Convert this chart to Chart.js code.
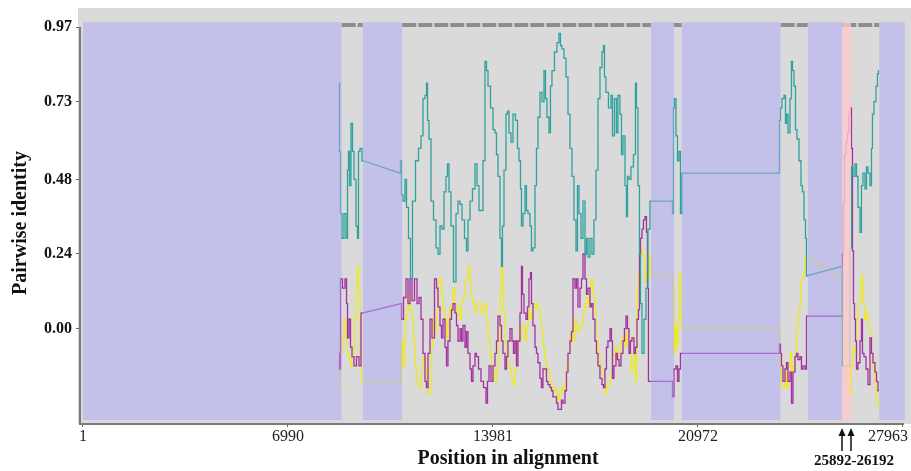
<!DOCTYPE html>
<html>
<head>
<meta charset="utf-8">
<script src="https://cdn.jsdelivr.net/npm/chart.js@4/dist/chart.umd.min.js"></script>
<style>
  html, body { margin: 0; padding: 0; background: #fff; }
  #wrap { width: 911px; height: 471px; position: relative; }
</style>
</head>
<body>
<div id="wrap"><canvas id="identityChart"></canvas></div>
<script>
// tick labels
const positionTicks = [1, 6990, 13981, 20972, 27963];
const identityTicks = [0.97, 0.73, 0.48, 0.24, 0.00];

// shaded (lavender) stretches of the alignment and the highlighted window
const lavenderBlocks = [[1, 8822], [9538, 10888], [19369, 20153], [20416, 23791], [24712, 25892], [27153, 28030]];
const highlightRange = [25892, 26192];
const trackedRegions = [[8822, 9538], [10888, 19369], [20153, 20416], [23791, 24712], [25892, 27153]];

// [position, pairwise identity]
const tealPoints = [
    [8731, 0.79], [8765, 0.57], [8799, 0.37], [8867, 0.29], [8935, 0.37], [9004, 0.29], [9038, 0.51], [9072, 0.57],
    [9106, 0.46], [9174, 0.66], [9208, 0.57], [9276, 0.48], [9344, 0.33], [9378, 0.29], [9413, 0.57], [9481, 0.58],
    [9549, 0.54], [10811, 0.50], [10845, 0.54], [10879, 0.43], [10947, 0.41], [11016, 0.48], [11050, 0.39], [11152, 0.29],
    [11186, 0.16], [11288, 0.41], [11391, 0.54], [11493, 0.58], [11561, 0.62], [11629, 0.74], [11697, 0.75], [11732, 0.79],
    [11766, 0.67], [11834, 0.61], [11902, 0.41], [12004, 0.35], [12072, 0.26], [12141, 0.24], [12209, 0.33], [12277, 0.32],
    [12345, 0.44], [12413, 0.49], [12447, 0.53], [12516, 0.44], [12584, 0.33], [12686, 0.15], [12754, 0.37], [12823, 0.41],
    [12891, 0.40], [12959, 0.35], [13061, 0.29], [13095, 0.25], [13164, 0.35], [13232, 0.41], [13334, 0.45], [13402, 0.53],
    [13470, 0.46], [13539, 0.38], [13607, 0.38], [13675, 0.54], [13743, 0.86], [13777, 0.83], [13846, 0.78], [13948, 0.71],
    [14016, 0.64], [14084, 0.63], [14118, 0.56], [14186, 0.49], [14255, 0.29], [14289, 0.20], [14323, 0.33], [14391, 0.51],
    [14459, 0.69], [14493, 0.70], [14561, 0.63], [14630, 0.60], [14698, 0.69], [14800, 0.67], [14834, 0.58], [14902, 0.54],
    [14936, 0.45], [14970, 0.33], [15039, 0.37], [15107, 0.46], [15141, 0.38], [15209, 0.37], [15277, 0.33], [15311, 0.25],
    [15380, 0.26], [15448, 0.46], [15482, 0.58], [15550, 0.68], [15618, 0.76], [15686, 0.73], [15755, 0.83], [15789, 0.74],
    [15857, 0.68], [15925, 0.63], [15959, 0.78], [16027, 0.83], [16130, 0.89], [16198, 0.92], [16266, 0.95], [16300, 0.91],
    [16368, 0.90], [16436, 0.87], [16505, 0.81], [16573, 0.69], [16641, 0.58], [16709, 0.49], [16777, 0.35], [16846, 0.25],
    [16880, 0.46], [16948, 0.37], [17016, 0.29], [17084, 0.41], [17153, 0.24], [17187, 0.29], [17255, 0.23], [17323, 0.29],
    [17391, 0.24], [17459, 0.35], [17527, 0.51], [17596, 0.74], [17664, 0.84], [17732, 0.89], [17766, 0.91], [17800, 0.81],
    [17868, 0.76], [17971, 0.71], [18039, 0.75], [18073, 0.62], [18175, 0.74], [18209, 0.63], [18278, 0.75], [18346, 0.69],
    [18380, 0.56], [18448, 0.62], [18516, 0.46], [18550, 0.36], [18585, 0.49], [18653, 0.48], [18721, 0.52], [18823, 0.56],
    [18857, 0.79], [18891, 0.71], [18960, 0.46], [18994, 0.24], [19028, 0.08], [19096, -0.08], [19164, 0.03], [19233, 0.13],
    [19301, 0.32], [19369, 0.41], [20085, 0.41], [20119, 0.37], [20153, 0.71], [20187, 0.74], [20256, 0.62], [20290, 0.54],
    [20358, 0.57], [20392, 0.37], [20460, 0.50], [23734, 0.50], [23768, 0.67], [23802, 0.71], [23870, 0.74], [23939, 0.75],
    [23973, 0.66], [24007, 0.69], [24075, 0.63], [24143, 0.74], [24177, 0.86], [24211, 0.83], [24280, 0.78], [24314, 0.64],
    [24382, 0.61], [24450, 0.54], [24518, 0.46], [24552, 0.44], [24621, 0.35], [24655, 0.29], [24689, 0.17], [25882, 0.20],
    [25916, -0.12], [26121, -0.12], [26189, 0.26], [26223, 0.52], [26291, 0.49], [26360, 0.53], [26394, 0.49], [26462, 0.39],
    [26530, 0.31], [26564, 0.46], [26632, 0.50], [26701, 0.45], [26735, 0.52], [26803, 0.50], [26871, 0.46], [26905, 0.58],
    [26939, 0.69], [27008, 0.73], [27076, 0.78], [27110, 0.82], [27144, 0.83]
];

const purplePoints = [
    [8731, -0.08], [8765, -0.13], [8799, 0.16], [8901, 0.13], [8970, 0.16], [9004, 0.08], [9038, -0.03], [9106, 0.03],
    [9140, -0.06], [9208, -0.09], [9276, -0.12], [9378, -0.09], [9447, -0.12], [9515, 0.05], [10845, 0.08], [10879, 0.03],
    [10981, 0.10], [11050, 0.16], [11118, 0.08], [11186, 0.16], [11254, 0.09], [11357, 0.16], [11425, 0.08], [11493, 0.10],
    [11561, 0.03], [11629, -0.08], [11697, -0.17], [11732, -0.19], [11800, -0.08], [11868, 0.03], [11936, -0.03], [12038, 0.16],
    [12072, 0.13], [12141, 0.07], [12209, 0.01], [12243, -0.03], [12311, 0.03], [12379, -0.06], [12413, -0.12], [12481, -0.04],
    [12550, 0.03], [12584, 0.06], [12652, 0.08], [12720, 0.05], [12754, 0.01], [12823, -0.04], [12891, 0.00], [12925, -0.04],
    [12993, 0.01], [13061, -0.06], [13095, -0.01], [13164, -0.08], [13232, -0.13], [13266, -0.17], [13334, -0.12], [13402, -0.08],
    [13436, -0.09], [13539, -0.13], [13607, -0.17], [13709, -0.19], [13777, -0.24], [13811, -0.17], [13880, -0.12], [13948, -0.17],
    [14016, -0.12], [14084, -0.08], [14118, -0.04], [14186, 0.04], [14255, 0.01], [14289, -0.04], [14357, -0.08], [14425, -0.13],
    [14459, -0.09], [14527, -0.04], [14596, 0.00], [14664, -0.04], [14698, -0.08], [14766, -0.04], [14800, -0.12], [14868, -0.04],
    [14936, 0.05], [14970, 0.20], [15005, 0.11], [15073, 0.05], [15141, 0.03], [15175, 0.07], [15243, 0.16], [15277, 0.18],
    [15311, 0.08], [15380, 0.01], [15448, -0.06], [15482, -0.08], [15550, -0.11], [15618, -0.16], [15652, -0.19], [15720, -0.13],
    [15789, -0.13], [15823, -0.17], [15891, -0.18], [15959, -0.19], [15993, -0.20], [16061, -0.22], [16130, -0.22], [16164, -0.24],
    [16232, -0.26], [16300, -0.26], [16334, -0.23], [16402, -0.24], [16471, -0.20], [16505, -0.14], [16573, -0.08], [16641, -0.04],
    [16675, -0.01], [16743, 0.16], [16812, 0.13], [16846, 0.16], [16914, 0.07], [16982, 0.13], [17016, 0.16], [17084, 0.24],
    [17153, 0.16], [17187, 0.11], [17255, 0.13], [17323, 0.07], [17357, 0.08], [17425, 0.03], [17493, -0.04], [17527, -0.08],
    [17596, -0.12], [17664, -0.16], [17732, -0.18], [17766, -0.19], [17834, -0.13], [17868, -0.06], [17937, -0.04], [18005, 0.00],
    [18039, -0.04], [18073, -0.16], [18141, -0.12], [18209, -0.08], [18243, -0.10], [18312, -0.12], [18380, -0.08], [18448, -0.04],
    [18482, 0.00], [18550, 0.04], [18585, 0.00], [18653, -0.08], [18687, -0.04], [18755, -0.03], [18823, -0.08], [18857, -0.06],
    [18926, 0.03], [18960, 0.06], [18994, 0.24], [19028, 0.29], [19096, 0.32], [19130, 0.35], [19198, 0.36], [19233, 0.31],
    [19267, 0.13], [19301, -0.17], [20085, -0.17], [20119, -0.22], [20187, -0.13], [20256, -0.12], [20290, -0.17], [20358, -0.13],
    [20392, -0.08], [23734, -0.08], [23768, -0.05], [23802, -0.08], [23836, -0.12], [23904, -0.17], [23973, -0.13], [24007, -0.11],
    [24075, -0.17], [24143, -0.14], [24177, -0.24], [24245, -0.14], [24314, -0.09], [24348, -0.08], [24416, -0.10], [24484, -0.09],
    [24518, -0.13], [24587, -0.12], [24655, -0.13], [24689, 0.04], [25882, 0.04], [25916, 0.24], [25950, 0.40], [25984, 0.56],
    [26053, 0.60], [26087, 0.63], [26155, 0.69], [26189, 0.71], [26223, 0.58], [26257, 0.25], [26291, 0.08], [26325, 0.03],
    [26360, -0.04], [26394, -0.13], [26462, -0.11], [26530, -0.04], [26564, 0.03], [26598, -0.08], [26667, -0.09], [26735, -0.13],
    [26803, -0.18], [26871, -0.03], [26905, -0.08], [26974, -0.11], [27042, -0.14], [27076, -0.17], [27144, -0.20]
];

const yellowPoints = [
    [8731, -0.19], [8799, -0.08], [8867, -0.03], [8935, 0.03], [9004, -0.03], [9038, -0.08], [9106, -0.10], [9140, -0.12],
    [9208, -0.08], [9276, 0.03], [9344, 0.13], [9378, 0.20], [9413, 0.13], [9481, -0.08], [9515, -0.17], [10811, -0.17],
    [10845, -0.08], [10879, -0.04], [10947, -0.12], [11016, 0.03], [11050, 0.06], [11118, 0.10], [11186, 0.06], [11254, 0.03],
    [11288, -0.04], [11357, -0.12], [11391, -0.17], [11493, -0.19], [11561, -0.14], [11629, -0.09], [11697, -0.13], [11732, -0.19],
    [11800, -0.21], [11868, -0.17], [11902, -0.06], [11970, 0.03], [12038, -0.01], [12072, 0.06], [12141, 0.15], [12209, 0.16],
    [12243, 0.11], [12311, 0.06], [12379, 0.03], [12413, -0.03], [12481, 0.03], [12550, 0.07], [12584, 0.06], [12652, 0.13],
    [12720, 0.08], [12754, 0.05], [12823, 0.06], [12891, 0.03], [12925, 0.08], [12993, 0.10], [13061, 0.16], [13095, 0.16],
    [13164, 0.20], [13232, 0.16], [13266, 0.10], [13334, 0.08], [13402, 0.05], [13436, 0.08], [13539, 0.08], [13607, 0.05],
    [13675, 0.07], [13743, 0.08], [13777, 0.01], [13846, -0.04], [13914, -0.08], [13948, -0.12], [14016, -0.14], [14084, -0.17],
    [14118, -0.13], [14186, -0.04], [14255, 0.11], [14289, 0.20], [14323, 0.16], [14357, 0.06], [14425, -0.04], [14459, -0.08],
    [14527, -0.12], [14596, -0.13], [14630, -0.16], [14698, -0.18], [14766, -0.13], [14800, -0.08], [14868, -0.04], [14936, -0.03],
    [14970, 0.01], [15039, 0.00], [15107, -0.04], [15141, 0.01], [15209, 0.06], [15277, 0.03], [15311, 0.05], [15380, 0.08],
    [15448, 0.07], [15482, 0.08], [15550, 0.06], [15618, 0.03], [15652, -0.01], [15720, -0.06], [15789, -0.10], [15823, -0.13],
    [15891, -0.14], [15959, -0.17], [15993, -0.19], [16061, -0.20], [16130, -0.19], [16164, -0.21], [16232, -0.23], [16300, -0.21],
    [16334, -0.19], [16402, -0.20], [16471, -0.17], [16505, -0.12], [16573, -0.08], [16641, -0.03], [16675, 0.00], [16743, -0.04],
    [16812, 0.03], [16846, 0.00], [16914, -0.01], [16982, 0.01], [17016, 0.01], [17084, 0.05], [17153, 0.08], [17187, 0.10],
    [17255, 0.07], [17323, 0.13], [17357, 0.16], [17425, 0.11], [17493, 0.05], [17527, -0.04], [17596, -0.08], [17664, -0.12],
    [17732, -0.14], [17800, -0.17], [17834, -0.21], [17868, -0.19], [17937, -0.18], [18005, -0.17], [18039, -0.14], [18107, -0.08],
    [18175, -0.06], [18209, -0.10], [18278, -0.08], [18346, -0.05], [18380, -0.04], [18448, -0.03], [18516, -0.06], [18550, -0.01],
    [18619, -0.04], [18687, -0.08], [18721, -0.14], [18755, -0.12], [18823, -0.08], [18857, -0.17], [18891, 0.03], [18926, 0.13],
    [18960, 0.18], [18994, 0.24], [19028, 0.26], [19096, 0.24], [19164, 0.22], [19198, 0.15], [19267, 0.18], [19301, 0.24],
    [19369, 0.17], [20085, 0.17], [20119, 0.13], [20187, -0.08], [20222, 0.01], [20256, -0.06], [20324, 0.03], [20358, 0.18],
    [20392, 0.05], [20426, 0.00], [23734, 0.00], [23768, -0.08], [23802, -0.13], [23836, -0.19], [23904, -0.19], [23973, -0.14],
    [24007, -0.19], [24075, -0.12], [24143, -0.08], [24177, -0.14], [24245, -0.12], [24314, -0.08], [24348, -0.01], [24416, 0.05],
    [24484, 0.08], [24518, 0.16], [24587, 0.18], [24655, 0.22], [24689, 0.23], [25882, 0.16], [25916, -0.01], [26019, -0.08],
    [26053, -0.13], [26121, -0.19], [26189, -0.21], [26223, -0.12], [26291, -0.06], [26360, -0.08], [26394, 0.03], [26462, 0.08],
    [26530, 0.11], [26564, 0.17], [26632, 0.08], [26701, 0.03], [26735, 0.05], [26803, 0.01], [26871, -0.04], [26905, -0.08],
    [26974, -0.13], [27042, -0.19], [27076, -0.24], [27144, -0.25]
];

const SERIF = "'Liberation Serif', 'DejaVu Serif', serif";
const blockTop = 0.986;
const blockBottom = -0.294;
const markerLevel = 0.977;
const bridgeGap = 600; // jumps longer than this cross a shaded block and are drawn straight

const shadeSet = (range, color) => ({
    type: "line",
    data: [{x: range[0], y: blockTop}, {x: range[1], y: blockTop}],
    fill: {value: blockBottom},
    backgroundColor: color,
    borderWidth: 0,
    pointRadius: 0,
    order: 0
});

// split a trace into the stepped windows and the straight bridges over shaded blocks
const splitTrace = pts => {
    const steps = [];
    const bridges = [];
    pts.forEach(([x, y], i) => {
        if (i > 0 && x - pts[i - 1][0] > bridgeGap) {
            const [px, py] = pts[i - 1];
            steps.push({x: (px + x) / 2, y: null});
            bridges.push({x: px, y: py}, {x, y}, {x, y: null});
        }
        steps.push({x, y});
    });
    return {steps, bridges};
};

const traceSets = (pts, color, order) => {
    const {steps, bridges} = splitTrace(pts);
    const base = {type: "line", borderColor: color, borderWidth: 1.3, pointRadius: 0, tension: 0, fill: false, spanGaps: false, order};
    return [
        {...base, data: steps, stepped: "middle"},
        {...base, data: bridges}
    ];
};

// gray plot background, axis lines and the text around the axes
const decorPlugin = {
    id: "decor",
    beforeDraw(chart) {
        const {ctx, chartArea} = chart;
        ctx.save();
        ctx.fillStyle = "#dadada";
        ctx.fillRect(chartArea.left - 2, chartArea.top, chartArea.right - chartArea.left + 2, chartArea.bottom - chartArea.top);
        ctx.restore();
    },
    afterDraw(chart) {
        const {ctx, chartArea} = chart;
        const xs = chart.scales.x;
        const ys = chart.scales.y;
        ctx.save();

        // axes
        ctx.strokeStyle = "#7a7a7a";
        ctx.lineWidth = 2;
        const xEnd = xs.getPixelForValue(28000);
        ctx.beginPath();
        ctx.moveTo(chartArea.left, ys.getPixelForValue(identityTicks[0]));
        ctx.lineTo(chartArea.left, chartArea.bottom);
        ctx.lineTo(xEnd, chartArea.bottom);
        ctx.stroke();

        // y tick labels
        ctx.fillStyle = "#111";
        ctx.font = "bold 16px " + SERIF;
        ctx.textAlign = "right";
        ctx.textBaseline = "middle";
        identityTicks.forEach(v => {
            ctx.fillText(v.toFixed(2), chartArea.left - 8, ys.getPixelForValue(v));
        });

        // x tick labels (last one kept inside the canvas)
        ctx.fillStyle = "#222";
        ctx.font = "16px " + SERIF;
        ctx.textAlign = "center";
        positionTicks.forEach(v => {
            const label = String(v);
            const w = ctx.measureText(label).width;
            const cx = Math.min(xs.getPixelForValue(v), chart.width - 3 - w / 2);
            ctx.fillText(label, cx, chartArea.bottom + 13);
        });

        // axis titles
        ctx.fillStyle = "#111";
        ctx.font = "bold 20px " + SERIF;
        ctx.fillText("Position in alignment", 508, chartArea.bottom + 35);
        ctx.save();
        ctx.translate(21, 223);
        ctx.rotate(-Math.PI / 2);
        ctx.fillText("Pairwise identity", 0, 0);
        ctx.restore();

        // arrows to the highlighted window
        ctx.strokeStyle = "#111";
        ctx.lineWidth = 1.5;
        highlightRange.forEach(v => {
            const px = Math.round(xs.getPixelForValue(v));
            ctx.beginPath();
            ctx.moveTo(px, chartArea.bottom + 27);
            ctx.lineTo(px, chartArea.bottom + 10);
            ctx.stroke();
            ctx.beginPath();
            ctx.moveTo(px, chartArea.bottom + 4);
            ctx.lineTo(px - 3.5, chartArea.bottom + 12);
            ctx.lineTo(px + 3.5, chartArea.bottom + 12);
            ctx.closePath();
            ctx.fill();
        });
        ctx.font = "bold 15px " + SERIF;
        ctx.fillText(highlightRange[0] + "-" + highlightRange[1], 854, chartArea.bottom + 37);
        ctx.restore();
    }
};

const datasets = [
    ...lavenderBlocks.map(b => shadeSet(b, "rgba(172,166,250,0.5)")),
    shadeSet(highlightRange, "rgba(255,200,204,0.8)"),
    ...traceSets(tealPoints, "#2fa29f", 1),
    ...traceSets(purplePoints, "#a2329f", 2),
    ...traceSets(yellowPoints, "#eeea22", 3),
    {
        type: "line",
        data: trackedRegions.flatMap(([a, b]) => [{x: a, y: markerLevel}, {x: b, y: markerLevel}, {x: b, y: null}]),
        borderColor: "#8e8e8e",
        borderWidth: 4,
        borderDash: [14, 2],
        pointRadius: 0,
        spanGaps: false,
        fill: false,
        order: 4
    }
];

new Chart(document.getElementById("identityChart").getContext("2d"), {
    type: "line",
    data: {datasets},
    plugins: [decorPlugin],
    options: {
        responsive: true,
        maintainAspectRatio: false,
        animation: false,
        devicePixelRatio: 1,
        layout: {padding: {top: 8, right: 0, left: 0, bottom: 0}},
        plugins: {
            legend: {display: false},
            tooltip: {enabled: false}
        },
        scales: {
            x: {
                type: "linear",
                min: -101,
                max: 28236,
                afterBuildTicks: s => { s.ticks = positionTicks.map(v => ({value: v})); },
                afterFit: s => { s.height = 47; },
                ticks: {display: false},
                grid: {display: true, drawOnChartArea: false, drawTicks: true, tickLength: 3, color: "#666"},
                border: {display: false}
            },
            y: {
                type: "linear",
                min: -0.307,
                max: 1.0315,
                afterBuildTicks: s => { s.ticks = identityTicks.map(v => ({value: v})); },
                afterFit: s => { s.width = 80; },
                ticks: {display: false},
                grid: {display: true, drawOnChartArea: false, drawTicks: true, tickLength: 4, color: "#666"},
                border: {display: false}
            }
        }
    }
});
</script>
</body>
</html>
